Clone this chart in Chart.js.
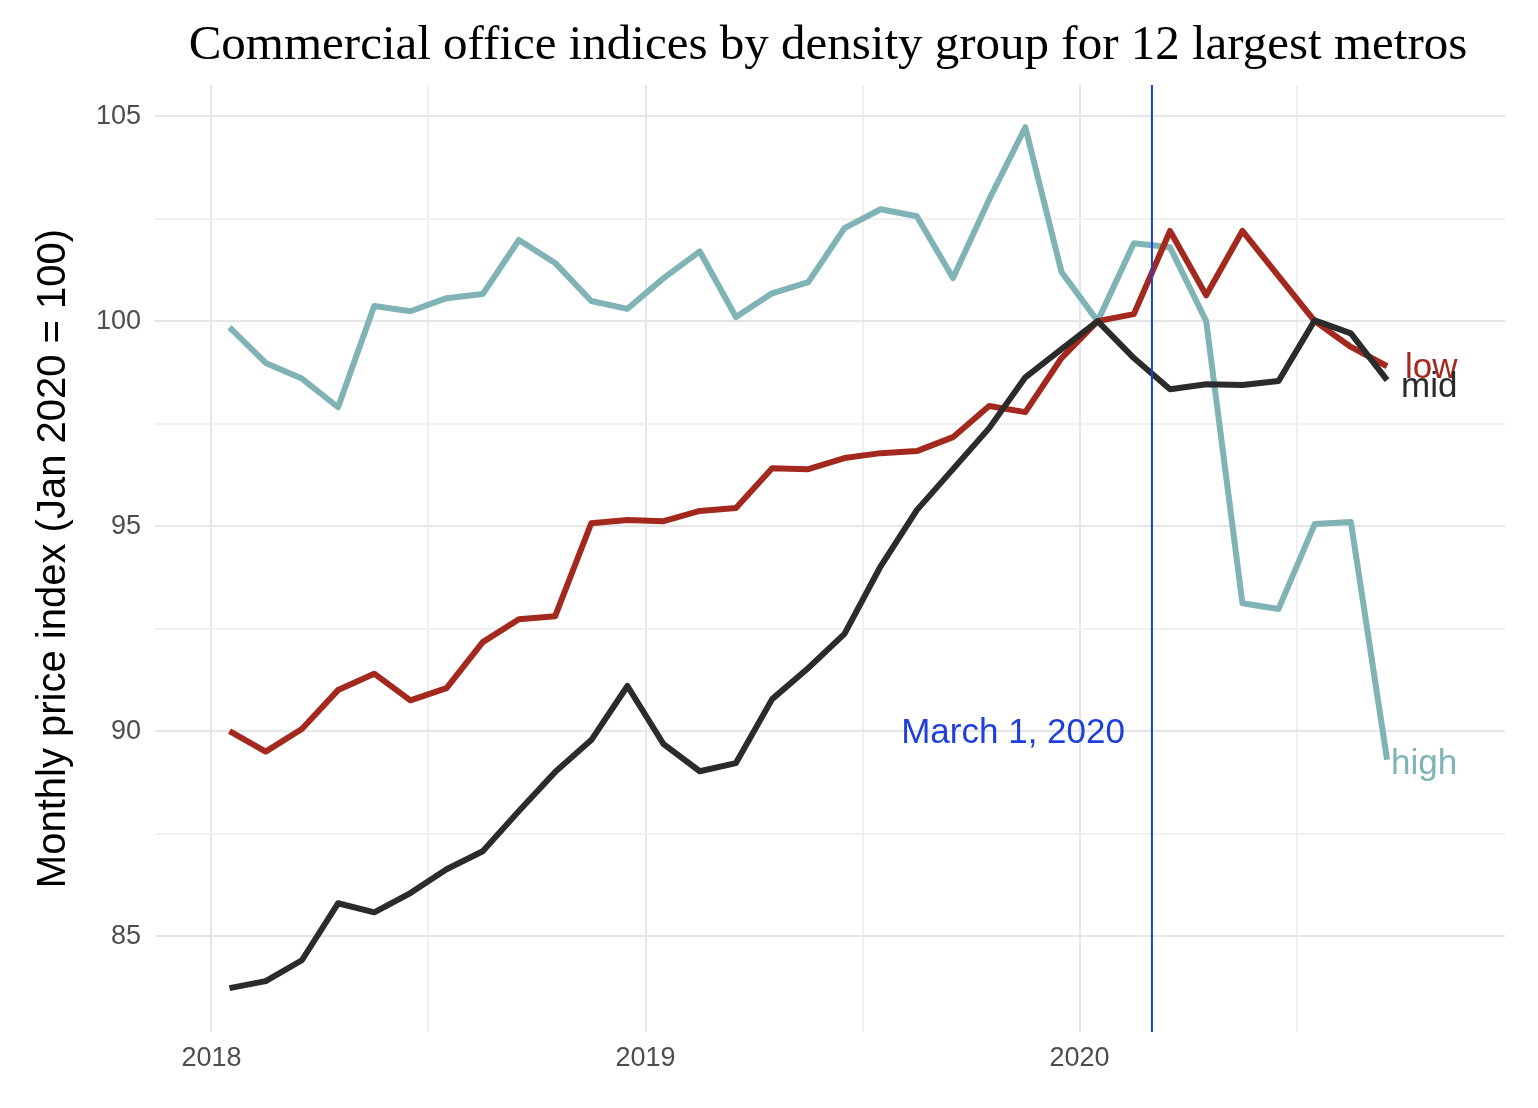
<!DOCTYPE html>
<html lang="en">
<head>
<meta charset="UTF-8">
<title>Commercial office indices by density group</title>
<script src="https://cdn.jsdelivr.net/npm/chart.js"></script>
<style>
  body { margin: 0; background: #fff; }
  #wrap { width: 1538px; height: 1108px; }
</style>
</head>
<body>
<div id="wrap"><canvas id="chart"></canvas></div>
<script>
// monthly, Jan 2018 .. Sep 2020 (plotted mid-month)
const months = Array.from({ length: 33 }, (_, i) => 2018 + (i + 0.5) / 12);

const highValues = [99.85, 98.98, 98.6, 97.9, 100.37, 100.24, 100.56, 100.66, 101.98, 101.42, 100.49, 100.3,
  101.05, 101.7, 100.1, 100.68, 100.95, 102.27, 102.73, 102.56, 101.05, 102.97, 104.73, 101.2,
  100, 101.9, 101.8, 100, 93.12, 92.98, 95.05, 95.1, 89.3];
const lowValues = [90.0, 89.5, 90.05, 91.0, 91.4, 90.75, 91.05, 92.17, 92.73, 92.8, 95.07, 95.15,
  95.12, 95.37, 95.44, 96.41, 96.39, 96.66, 96.78, 96.83, 97.17, 97.93, 97.78, 99.1,
  100, 100.17, 102.2, 100.63, 102.2, 101.1, 100, 99.37, 98.9];
const midValues = [83.73, 83.9, 84.41, 85.8, 85.58, 86.05, 86.63, 87.07, 88.05, 89.0, 89.78, 91.1,
  89.68, 89.02, 89.22, 90.78, 91.54, 92.37, 94.02, 95.39, 96.39, 97.39, 98.63, 99.32,
  100, 99.1, 98.34, 98.46, 98.44, 98.54, 100.02, 99.7, 98.56];

const marchLine = 2020 + 2 / 12;
const yearTicks = [2018, 2019, 2020];
const yTicks = [85, 90, 95, 100, 105];

const colors = { high: '#7fb3b5', low: '#a3291e', mid: '#2b2b2b' };
const sans = '"Liberation Sans", Arial, sans-serif';

function toPoints(vals) { return vals.map((v, i) => ({ x: months[i], y: v })); }

const overlay = {
  id: 'overlay',
  afterDatasetsDraw(chart) {
    const { ctx, scales: { x, y }, chartArea } = chart;
    ctx.save();
    // March 1 line
    const mx = x.getPixelForValue(marchLine);
    ctx.strokeStyle = '#1a3de0';
    ctx.lineWidth = 2;
    ctx.beginPath();
    ctx.moveTo(mx, chartArea.top);
    ctx.lineTo(mx, chartArea.bottom);
    ctx.stroke();
    ctx.font = '35px ' + sans;
    ctx.fillStyle = '#1f3fdd';
    ctx.textAlign = 'right';
    ctx.textBaseline = 'middle';
    ctx.fillText('March 1, 2020', mx - 27, y.getPixelForValue(89.95));
    // end labels
    ctx.textAlign = 'left';
    const last = months.length - 1;
    const lx = x.getPixelForValue(months[last]);
    const labels = [
      ['low', lowValues[last], colors.low, 18, 2],
      ['mid', midValues[last], colors.mid, 14, 7],
      ['high', highValues[last], colors.high, 4, 5]
    ];
    labels.forEach(([t, v, c, dx, dy]) => {
      ctx.fillStyle = c;
      ctx.fillText(t, lx + dx, y.getPixelForValue(v) + dy);
    });
    // title
    ctx.fillStyle = '#000';
    ctx.textAlign = 'center';
    ctx.font = '49px "Liberation Serif", "Times New Roman", serif';
    ctx.fillText('Commercial office indices by density group for 12 largest metros', 828, 46);
    ctx.restore();
  }
};

new Chart(document.getElementById('chart'), {
  type: 'line',
  data: {
    datasets: [
      { label: 'mid', data: toPoints(midValues), borderColor: colors.mid, order: 1 },
      { label: 'low', data: toPoints(lowValues), borderColor: colors.low, order: 2 },
      { label: 'high', data: toPoints(highValues), borderColor: colors.high, order: 3 }
    ]
  },
  options: {
    responsive: true,
    maintainAspectRatio: false,
    animation: false,
    elements: {
      line: { borderWidth: 6, tension: 0, borderJoinStyle: 'round' },
      point: { radius: 0 }
    },
    layout: { padding: { top: 85, right: 33, left: 30, bottom: 0 } },
    plugins: { legend: { display: false }, tooltip: { enabled: false } },
    scales: {
      x: {
        type: 'linear',
        min: 2017.87,
        max: 2020.98,
        afterFit(s) { s.height = 76; },
        afterBuildTicks(s) {
          s.ticks = [2018, 2018.5, 2019, 2019.5, 2020, 2020.5].map(v => ({ value: v }));
        },
        grid: { color: c => Number.isInteger(c.tick.value) ? '#e6e6e6' : '#f0f0f0', lineWidth: 2, drawTicks: false },
        border: { display: false },
        ticks: {
          padding: 10,
          color: '#4d4d4d',
          font: { size: 27, family: sans },
          callback: v => yearTicks.includes(v) ? String(v) : ''
        }
      },
      y: {
        min: 82.66,
        max: 105.76,
        afterFit(s) { s.width = 125; },
        afterBuildTicks(s) {
          s.ticks = [85, 87.5, 90, 92.5, 95, 97.5, 100, 102.5, 105].map(v => ({ value: v }));
        },
        grid: { color: c => yTicks.includes(c.tick.value) ? '#e6e6e6' : '#f0f0f0', lineWidth: 2, drawTicks: false },
        border: { display: false },
        ticks: {
          padding: 14,
          color: '#4d4d4d',
          font: { size: 27, family: sans },
          callback: v => yTicks.includes(v) ? String(v) : ''
        },
        title: {
          display: true,
          text: 'Monthly price index (Jan 2020 = 100)',
          color: '#000',
          padding: 0,
          font: { size: 40, family: sans }
        }
      }
    }
  },
  plugins: [overlay]
});
</script>
</body>
</html>
